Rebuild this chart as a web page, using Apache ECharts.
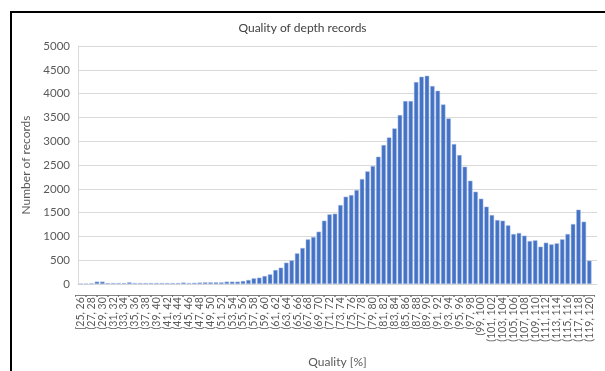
<!DOCTYPE html>
<html>
<head>
<meta charset="utf-8">
<title>Quality of depth records</title>
<script src="https://cdn.jsdelivr.net/npm/echarts@6.0.0/dist/echarts.min.js"></script>
<style>
  html, body { margin: 0; padding: 0; background: #ffffff; }
  #chart { width: 605px; height: 371px; }
</style>
</head>
<body>
<div id="chart"></div>
<script>
// Histogram bins of record quality, 1 % wide
const binLabels = [
  '[25, 26]', '(26, 27]', '(27, 28]', '(28, 29]', '(29, 30]', '(30, 31]', '(31, 32]', '(32, 33]',
  '(33, 34]', '(34, 35]', '(35, 36]', '(36, 37]', '(37, 38]', '(38, 39]', '(39, 40]', '(40, 41]',
  '(41, 42]', '(42, 43]', '(43, 44]', '(44, 45]', '(45, 46]', '(46, 47]', '(47, 48]', '(48, 49]',
  '(49, 50]', '(50, 51]', '(51, 52]', '(52, 53]', '(53, 54]', '(54, 55]', '(55, 56]', '(56, 57]',
  '(57, 58]', '(58, 59]', '(59, 60]', '(60, 61]', '(61, 62]', '(62, 63]', '(63, 64]', '(64, 65]',
  '(65, 66]', '(66, 67]', '(67, 68]', '(68, 69]', '(69, 70]', '(70, 71]', '(71, 72]', '(72, 73]',
  '(73, 74]', '(74, 75]', '(75, 76]', '(76, 77]', '(77, 78]', '(78, 79]', '(79, 80]', '(80, 81]',
  '(81, 82]', '(82, 83]', '(83, 84]', '(84, 85]', '(85, 86]', '(86, 87]', '(87, 88]', '(88, 89]',
  '(89, 90]', '(90, 91]', '(91, 92]', '(92, 93]', '(93, 94]', '(94, 95]', '(95, 96]', '(96, 97]',
  '(97, 98]', '(98, 99]', '(99, 100]', '(100, 101]', '(101, 102]', '(102, 103]', '(103, 104]', '(104, 105]',
  '(105, 106]', '(106, 107]', '(107, 108]', '(108, 109]', '(109, 110]', '(110, 111]', '(111, 112]', '(112, 113]',
  '(113, 114]', '(114, 115]', '(115, 116]', '(116, 117]', '(117, 118]', '(118, 119]', '(119, 120]'
];

// Number of records falling in each bin
const recordCounts = [
  5, 10, 15, 50, 50, 20, 20, 20,
  20, 35, 20, 20, 20, 20, 20, 20,
  20, 20, 20, 30, 20, 25, 30, 35,
  35, 35, 35, 49, 49, 49, 63, 84,
  119, 133, 168, 203, 294, 343, 448, 495,
  644, 756, 938, 987, 1099, 1330, 1463, 1477,
  1659, 1834, 1869, 1974, 2205, 2366, 2478, 2674,
  2919, 3080, 3269, 3549, 3843, 3843, 4242, 4354,
  4375, 4158, 4060, 3773, 3479, 2940, 2709, 2464,
  2170, 1939, 1792, 1624, 1449, 1344, 1330, 1232,
  1050, 1071, 1015, 903, 917, 784, 868, 833,
  854, 938, 1050, 1260, 1561, 1309, 490
];

// Value axis ticks
const yMin = 0;
const yMax = 5000;
const yStep = 500;

const textColor = '#595959';
const gridColor = '#d9d9d9';
const fontFamily = 'Lato, "Open Sans", sans-serif';

const chart = echarts.init(document.getElementById('chart'), null, { renderer: 'canvas' });

chart.setOption({
  animation: false,
  backgroundColor: '#ffffff',
  title: {
    text: 'Quality of depth records',
    left: 'center',
    top: 17,
    textStyle: { color: '#404040', fontSize: 12, fontWeight: 'normal', fontFamily: fontFamily }
  },
  graphic: [{
    type: 'rect',
    silent: true,
    shape: { x: 11, y: 12, width: 640, height: 420 },
    style: { fill: 'none', stroke: '#000000', lineWidth: 2 }
  }],
  grid: [
    // frame: gridlines and value labels
    { left: 78, right: 8, top: 46, bottom: 87, outerBoundsMode: 'none', containLabel: false },
    // histogram bars
    { left: 78, right: 13, top: 46, bottom: 87, outerBoundsMode: 'none', containLabel: false }
  ],
  xAxis: [
    {
      gridIndex: 0,
      type: 'value',
      min: 0,
      max: 1,
      axisLine: { show: true, onZero: false, lineStyle: { color: gridColor, width: 1 } },
      axisTick: { show: false },
      axisLabel: { show: false },
      splitLine: { show: false },
      name: 'Quality [%]',
      nameLocation: 'middle',
      nameGap: 72,
      nameTextStyle: { color: textColor, fontSize: 12, fontFamily: fontFamily }
    },
    {
      gridIndex: 1,
      type: 'category',
      data: binLabels,
      boundaryGap: true,
      axisLine: { show: false },
      axisTick: { show: false },
      splitLine: { show: false },
      axisLabel: {
        interval: 1,
        rotate: 90,
        margin: 10,
        color: textColor,
        fontSize: 10.5,
        fontFamily: fontFamily
      }
    }
  ],
  yAxis: [
    {
      gridIndex: 0,
      type: 'value',
      min: yMin,
      max: yMax,
      interval: yStep,
      axisLine: { show: true, lineStyle: { color: gridColor, width: 1 } },
      axisTick: { show: false },
      axisLabel: {
        color: textColor,
        fontSize: 11.5,
        margin: 8,
        fontFamily: fontFamily,
        formatter: function (v) { return String(v); }
      },
      splitLine: { show: true, lineStyle: { color: gridColor, width: 1 } },
      name: 'Number of records',
      nameLocation: 'middle',
      nameGap: 45,
      nameTextStyle: { color: textColor, fontSize: 12, fontFamily: fontFamily }
    },
    {
      gridIndex: 1,
      type: 'value',
      min: yMin,
      max: yMax,
      interval: yStep,
      show: false,
      splitLine: { show: false }
    }
  ],
  series: [{
    name: 'Number of records',
    type: 'bar',
    xAxisIndex: 1,
    yAxisIndex: 1,
    data: recordCounts,
    barCategoryGap: '18%',
    itemStyle: {
      color: '#4472c4',
      borderColor: '#a8bde6',
      borderWidth: 0.5
    }
  }]
});
</script>
</body>
</html>
